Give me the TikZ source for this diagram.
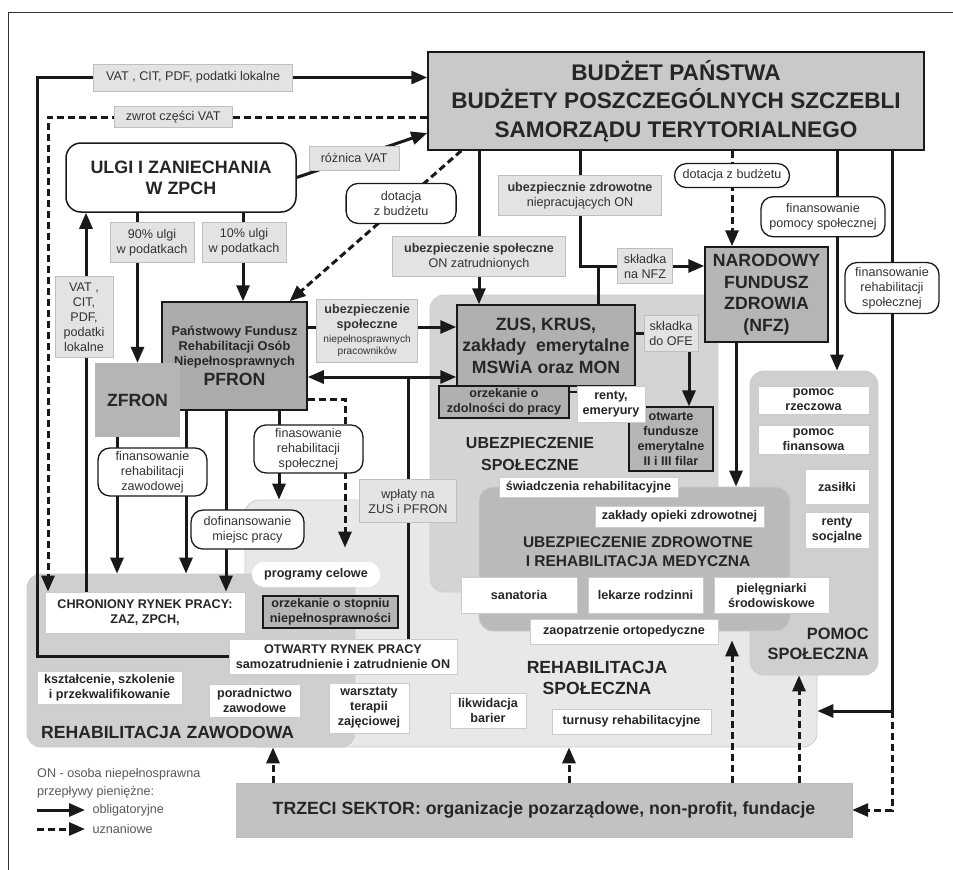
\documentclass[tikz,border=0pt]{standalone}
\usepackage{fontspec}
\setmainfont{Liberation Sans}
\usepackage{tikz}
\usetikzlibrary{arrows.meta,positioning,calc}

\newcommand{\txtsmall}{\fontsize{12.6}{15}\selectfont}
\newcommand{\txtbig}{\fontsize{17.7}{21.5}\selectfont\bfseries}
\newcommand{\txttiny}{\fontsize{10.2}{12}\selectfont}

\tikzset{
	flow/.style={line width=3pt, draw=black!90},
	dflow/.style={flow, dash pattern=on 7pt off 4pt},
	lbl/.style={solid, fill=black!11, draw=black!25, line width=0.8pt, inner sep=0pt, align=center, font=\txtsmall, text=black!80},
	pill/.style={solid, fill=white, draw=black!90, line width=1.3pt, rounded corners=12pt, inner sep=0pt, align=center, font=\txtsmall, text=black!80},
	wbox/.style={fill=white, draw=black!20, line width=0.8pt, inner sep=0pt, align=center, font=\txtsmall\bfseries, text=black!85},
	gbox/.style={draw=black!90, line width=1.5pt, inner sep=0pt, align=center, text=black!85},
	region/.style={rounded corners=14pt, draw=black!20, line width=0.8pt, inner sep=0pt},
	heading/.style={align=center, text=black!85, inner sep=0pt}
}

\begin{document}
\begin{tikzpicture}[x=1pt, y=-1pt, >={Triangle[length=16pt,width=13pt]}]
	\useasboundingbox (0,0) rectangle (953,870);
	\draw[line width=1pt, black!80] (8,870) -- (8,12) -- (953,12);

	% obszary
	\node[region, fill=black!9, minimum width=572pt, minimum height=247pt] (lightReg) at (531,623.5) {};
	\node[region, fill=black!17, minimum width=288pt, minimum height=297pt] (ubezpSpolReg) at (574,443.5) {};
	\node[region, fill=black!19, minimum width=128pt, minimum height=304pt] (pomocReg) at (814,523) {};
	\node[region, fill=black!27, minimum width=311pt, minimum height=144pt] (zdrowReg) at (634.5,559) {};
	\node[region, fill=black!19, minimum width=328pt, minimum height=173pt] (rehabZawReg) at (191,660.5) {};

	% bloki
	\node[gbox, fill=black!21, minimum width=496pt, minimum height=98pt, font=\fontsize{22.6}{28.5}\selectfont\bfseries] (budzet) at (676,101) {BUDŻET PAŃSTWA\\BUDŻETY POSZCZEGÓLNYCH SZCZEBLI\\SAMORZĄDU TERYTORIALNEGO};
	\node[pill, rounded corners=15pt, line width=1.5pt, minimum width=230pt, minimum height=69pt, font=\fontsize{17.9}{21}\selectfont\bfseries, text=black!85] (ulgi) at (181,177.5) {ULGI I ZANIECHANIA\\W ZPCH};
	\node[gbox, fill=black!33, minimum width=145pt, minimum height=108pt, font=\fontsize{12.8}{15}\selectfont\bfseries] (pfron) at (234.5,356) {Państwowy Fundusz\\Rehabilitacji Osób\\Niepełnosprawnych\\[4pt]{\fontsize{17.7}{20}\selectfont PFRON}};
	\node[fill=black!29, minimum width=85pt, minimum height=74pt, inner sep=0pt, font=\txtbig, text=black!85] (zfron) at (137.5,400) {ZFRON};
	\node[gbox, fill=black!31, minimum width=178pt, minimum height=81pt, font=\txtbig] (zus) at (546,345.5) {ZUS, KRUS,\\zakłady\ \ emerytalne\\MSWiA oraz MON};
	\node[gbox, fill=black!31, line width=1.2pt, minimum width=130pt, minimum height=32pt, font=\txtsmall\bfseries] (orzekZdol) at (504,402) {orzekanie o\\zdolności do pracy};
	\node[gbox, fill=black!29, line width=1.2pt, minimum width=84pt, minimum height=64pt, font=\txtsmall\bfseries] (ofe) at (671,439) {otwarte\\fundusze\\emerytalne\\II i III filar};
	\node[wbox, minimum width=68pt, minimum height=36pt] (renty) at (611,404) {renty,\\emeryury};
	\node[gbox, fill=black!29, minimum width=123pt, minimum height=95pt, font=\txtbig] (nfz) at (766.5,294.5) {NARODOWY\\FUNDUSZ\\ZDROWIA\\(NFZ)};
	\node[fill=black!24, draw=black!26, minimum width=616pt, minimum height=54pt, inner sep=0pt, font=\txtbig, text=black!85] (trzeci) at (544,810) {TRZECI SEKTOR: organizacje pozarządowe, non-profit, fundacje};

	% napisy obszarow
	\node[heading, font=\fontsize{16}{21.7}\selectfont\bfseries] (ubezpSpolTxt) at (530,454) {UBEZPIECZENIE\\SPOŁECZNE};
	\node[heading, font=\fontsize{15.5}{19.5}\selectfont\bfseries] (zdrowTxt) at (638,551.5) {UBEZPIECZENIE ZDROWOTNE\\I REHABILITACJA MEDYCZNA};
	\node[heading, font=\fontsize{17.6}{21}\selectfont\bfseries] (rehabSpolTxt) at (597,677.5) {REHABILITACJA\\SPOŁECZNA};
	\node[heading, align=right, anchor=east, font=\fontsize{16.4}{20}\selectfont\bfseries] (pomocTxt) at (869,644) {POMOC\\SPOŁECZNA};
	\node[heading, anchor=west, font=\fontsize{17.6}{21}\selectfont\bfseries] (rehabZawTxt) at (41,732) {REHABILITACJA ZAWODOWA};

	% elementy
	\node[wbox, minimum width=179pt, minimum height=20pt] (swiadcz) at (588.5,487) {świadczenia rehabilitacyjne};
	\node[wbox, minimum width=169pt, minimum height=21pt] (zoz) at (679.5,516.5) {zakłady opieki zdrowotnej};
	\node[wbox, minimum width=116pt, minimum height=36pt] (sanatoria) at (519,595) {sanatoria};
	\node[wbox, minimum width=115pt, minimum height=36pt] (lekarze) at (645.5,595) {lekarze rodzinni};
	\node[wbox, minimum width=115pt, minimum height=36pt] (pielegn) at (771.5,595) {pielęgniarki\\środowiskowe};
	\node[wbox, minimum width=188pt, minimum height=25pt] (ortoped) at (624,631.5) {zaopatrzenie ortopedyczne};
	\node[wbox, minimum width=111pt, minimum height=28pt] (rzeczowa) at (813.5,400) {pomoc\\rzeczowa};
	\node[wbox, minimum width=111pt, minimum height=29pt] (finansowa) at (813.5,439.5) {pomoc\\finansowa};
	\node[wbox, minimum width=64pt, minimum height=35pt] (zasilki) at (837,486.5) {zasiłki};
	\node[wbox, minimum width=64pt, minimum height=36pt] (rentySoc) at (837,530) {renty\\socjalne};
	\node[wbox, minimum width=76pt, minimum height=35pt] (bariery) at (488,710.5) {likwidacja\\barier};
	\node[wbox, minimum width=159pt, minimum height=25pt] (turnusy) at (631.5,721.5) {turnusy rehabilitacyjne};
	\node[wbox, draw=none, rounded corners=12pt, minimum width=128pt, minimum height=25pt] (programy) at (316,574.5) {programy celowe};
	\node[gbox, fill=black!29, line width=1.2pt, minimum width=135pt, minimum height=32pt, font=\txtsmall\bfseries] (orzekStop) at (330.5,612) {orzekanie o stopniu\\niepełnosprawności};
	\node[wbox, minimum width=80pt, minimum height=50pt] (warsztaty) at (369,708) {warsztaty\\terapii\\zajęciowej};
	\node[wbox, minimum width=228pt, minimum height=35pt] (otwarty) at (343,656.5) {OTWARTY RYNEK PRACY\\samozatrudnienie i zatrudnienie ON};
	\node[wbox, minimum width=200pt, minimum height=41pt] (chroniony) at (145,612.5) {CHRONIONY RYNEK PRACY:\\ZAZ, ZPCH,};
	\node[wbox, minimum width=145pt, minimum height=33pt] (ksztalc) at (109.5,687.5) {kształcenie, szkolenie\\i przekwalifikowanie};
	\node[wbox, minimum width=91pt, minimum height=33pt] (poradn) at (254.5,700.5) {poradnictwo\\zawodowe};

	% przeplywy
	\draw[flow,->] (otwarty.west) -| (37,77.5) -- node[lbl, pos=0.4, minimum width=199pt, minimum height=27pt] (vatTop) {VAT , CIT, PDF, podatki lokalne} (budzet.west |- 37,77.5);
	\draw[dflow,->] (budzet.west |- 48,117) -- node[lbl, pos=0.67, minimum width=118pt, minimum height=21pt] (zwrot) {zwrot części VAT} (48,117) -- (chroniony.north -| 48,0);
	\draw[flow,->] (ulgi.east) -- node[lbl, pos=0.44, minimum width=90pt, minimum height=24pt] (roznica) {różnica VAT} ([yshift=-32pt]budzet.west);
	\draw[dflow,->] ([xshift=34pt]budzet.south west) -- node[pill, pos=0.35, minimum width=110pt, minimum height=40pt] (dotacjaPfron) {dotacja\\z budżetu} ([xshift=55pt]pfron.north);
	\draw[flow,->] (ulgi.south -| zfron.north) -- node[lbl, pos=0.2, xshift=14.5pt, minimum width=84pt, minimum height=40pt] (ulga90) {90\% ulgi\\w podatkach} (zfron.north);
	\draw[flow,->] (ulgi.south -| 243,0) -- node[lbl, pos=0.33, xshift=1pt, minimum width=84pt, minimum height=40pt] (ulga10) {10\% ulgi\\w podatkach} (pfron.north -| 243,0);
	\draw[flow,->] (chroniony.north -| 86,0) -- node[lbl, pos=0.725, xshift=-2pt, minimum width=58pt, minimum height=81pt] (vatLeft) {VAT ,\\CIT,\\PDF,\\podatki\\lokalne} (ulgi.south -| 86,0);

	\draw[flow,->] (pfron.east |- 0,327) -- node[lbl, pos=0.4, yshift=-3.5pt, minimum width=101pt, minimum height=63pt, font=\txtsmall\bfseries] (ubezpPfron) {ubezpieczenie\\społeczne\\[-1pt]{\txttiny\mdseries niepełnosprawnych}\\[-3pt]{\txttiny\mdseries pracowników}} (zus.west |- 0,327);
	\draw[flow,<->] (pfron.east |- 0,377) -- (zus.west |- 0,377);
	\draw[flow] (otwarty.north -| 408,0) -- node[lbl, pos=0.525, minimum width=97pt, minimum height=43pt] (wplaty) {wpłaty na\\ZUS i PFRON} (408,377);
	\draw[dflow,->, shorten >=14pt] (pfron.east |- 0,399) -| (programy.north -| 345,0);
	\draw[flow,->] (pfron.south -| 279,0) -- node[pill, pos=0.43, xshift=29.5pt, minimum width=109pt, minimum height=48pt] (finRehSpolL) {finasowanie\\rehabilitacji\\społecznej} (lightReg.north -| 279,0);
	\draw[flow,->] (pfron.south -| 186,0) -- (rehabZawReg.north -| 186,0);
	\draw[flow,->] (zfron.south -| 117,0) -- node[pill, pos=0.255, xshift=35.5pt, minimum width=109pt, minimum height=48pt] (finRehZaw) {finansowanie\\rehabilitacji\\zawodowej} (rehabZawReg.north -| 117,0);
	\draw[flow,->] (pfron.south -| 226,0) -- node[pill, pos=0.657, xshift=21.5pt, minimum width=113pt, minimum height=39pt] (dofin) {dofinansowanie\\miejsc pracy} (chroniony.north -| 226,0);

	\draw[flow,->] (budzet.south -| 479,0) -- node[lbl, pos=0.69, minimum width=173pt, minimum height=40pt] (ubezpOn) {\textbf{ubezpieczenie społeczne}\\ON zatrudnionych} (zus.north -| 479,0);
	\draw[flow] (zus.north -| 598,0) -- (598,266);
	\draw[flow,->] (budzet.south -| 580,0) -- node[lbl, pos=0.39, minimum width=163pt, minimum height=40pt] (ubezpZdr) {\textbf{ubezpiecznie zdrowotne}\\niepracujących ON} (580,266) -- node[lbl, pos=0.524, minimum width=55pt, minimum height=35pt] (skladkaNfz) {składka\\na NFZ} (nfz.west |- 580,266);
	\draw[dflow,->] (budzet.south -| 732,0) -- node[pill, pos=0.26, minimum width=115pt, minimum height=24pt] (dotacjaNfz) {dotacja z budżetu} (nfz.north -| 732,0);
	\draw[flow,->] (nfz.south -| 736,0) -- (zdrowReg.north -| 736,0);
	\draw[flow,->] (zus.east |- 0,333) -| node[lbl, pos=0.5, xshift=-18pt, minimum width=54pt, minimum height=36pt] (skladkaOfe) {składka\\do OFE} (ofe.north -| 689,0);
	\draw[line width=1.5pt, black!90] (orzekZdol.east |- 0,392) -- (renty.west |- 0,392);

	\draw[flow,->] (budzet.south -| 837,0) -- node[pill, pos=0.3, xshift=-14pt, minimum width=124pt, minimum height=40pt] (finPomocy) {finansowanie\\pomocy społecznej} (pomocReg.north -| 837,0);
	\draw[dflow,->] (892,711) |- (trzeci.east);
	\draw[flow,->] (budzet.south -| 892,0) -- node[pill, pos=0.245, minimum width=94pt, minimum height=51pt] (finRehSpolR) {finansowanie\\rehabilitacji\\społecznej} (892,711) -- (lightReg.east |- 892,711);

	\draw[dflow,->] (trzeci.north -| 273,0) -- (rehabZawReg.south -| 273,0);
	\draw[dflow,->] (trzeci.north -| 569,0) -- (lightReg.south -| 569,0);
	\draw[dflow,->, shorten >=9pt] (trzeci.north -| 732,0) -- (zdrowReg.south -| 732,0);
	\draw[dflow,->] (trzeci.north -| 799,0) -- (pomocReg.south -| 799,0);

	% legenda
	\node[anchor=west, inner sep=0pt, font=\txtsmall, text=black!65] (legOn) at (37,774) {ON - osoba niepełnosprawna};
	\node[anchor=west, inner sep=0pt, font=\txtsmall, text=black!65] (legPrz) at (37,792) {przepływy pieniężne:};
	\coordinate (legA) at (37,810);
	\coordinate (legB) at (37,829);
	\draw[flow,->] (legA) -- ++(48,0) node[anchor=west, inner sep=0pt, xshift=6pt, font=\txtsmall, text=black!65] (legObl) {obligatoryjne};
	\draw[dflow,->] (legB) -- ++(48,0) node[anchor=west, inner sep=0pt, xshift=6pt, font=\txtsmall, text=black!65] (legUzn) {uznaniowe};
\end{tikzpicture}
\end{document}
